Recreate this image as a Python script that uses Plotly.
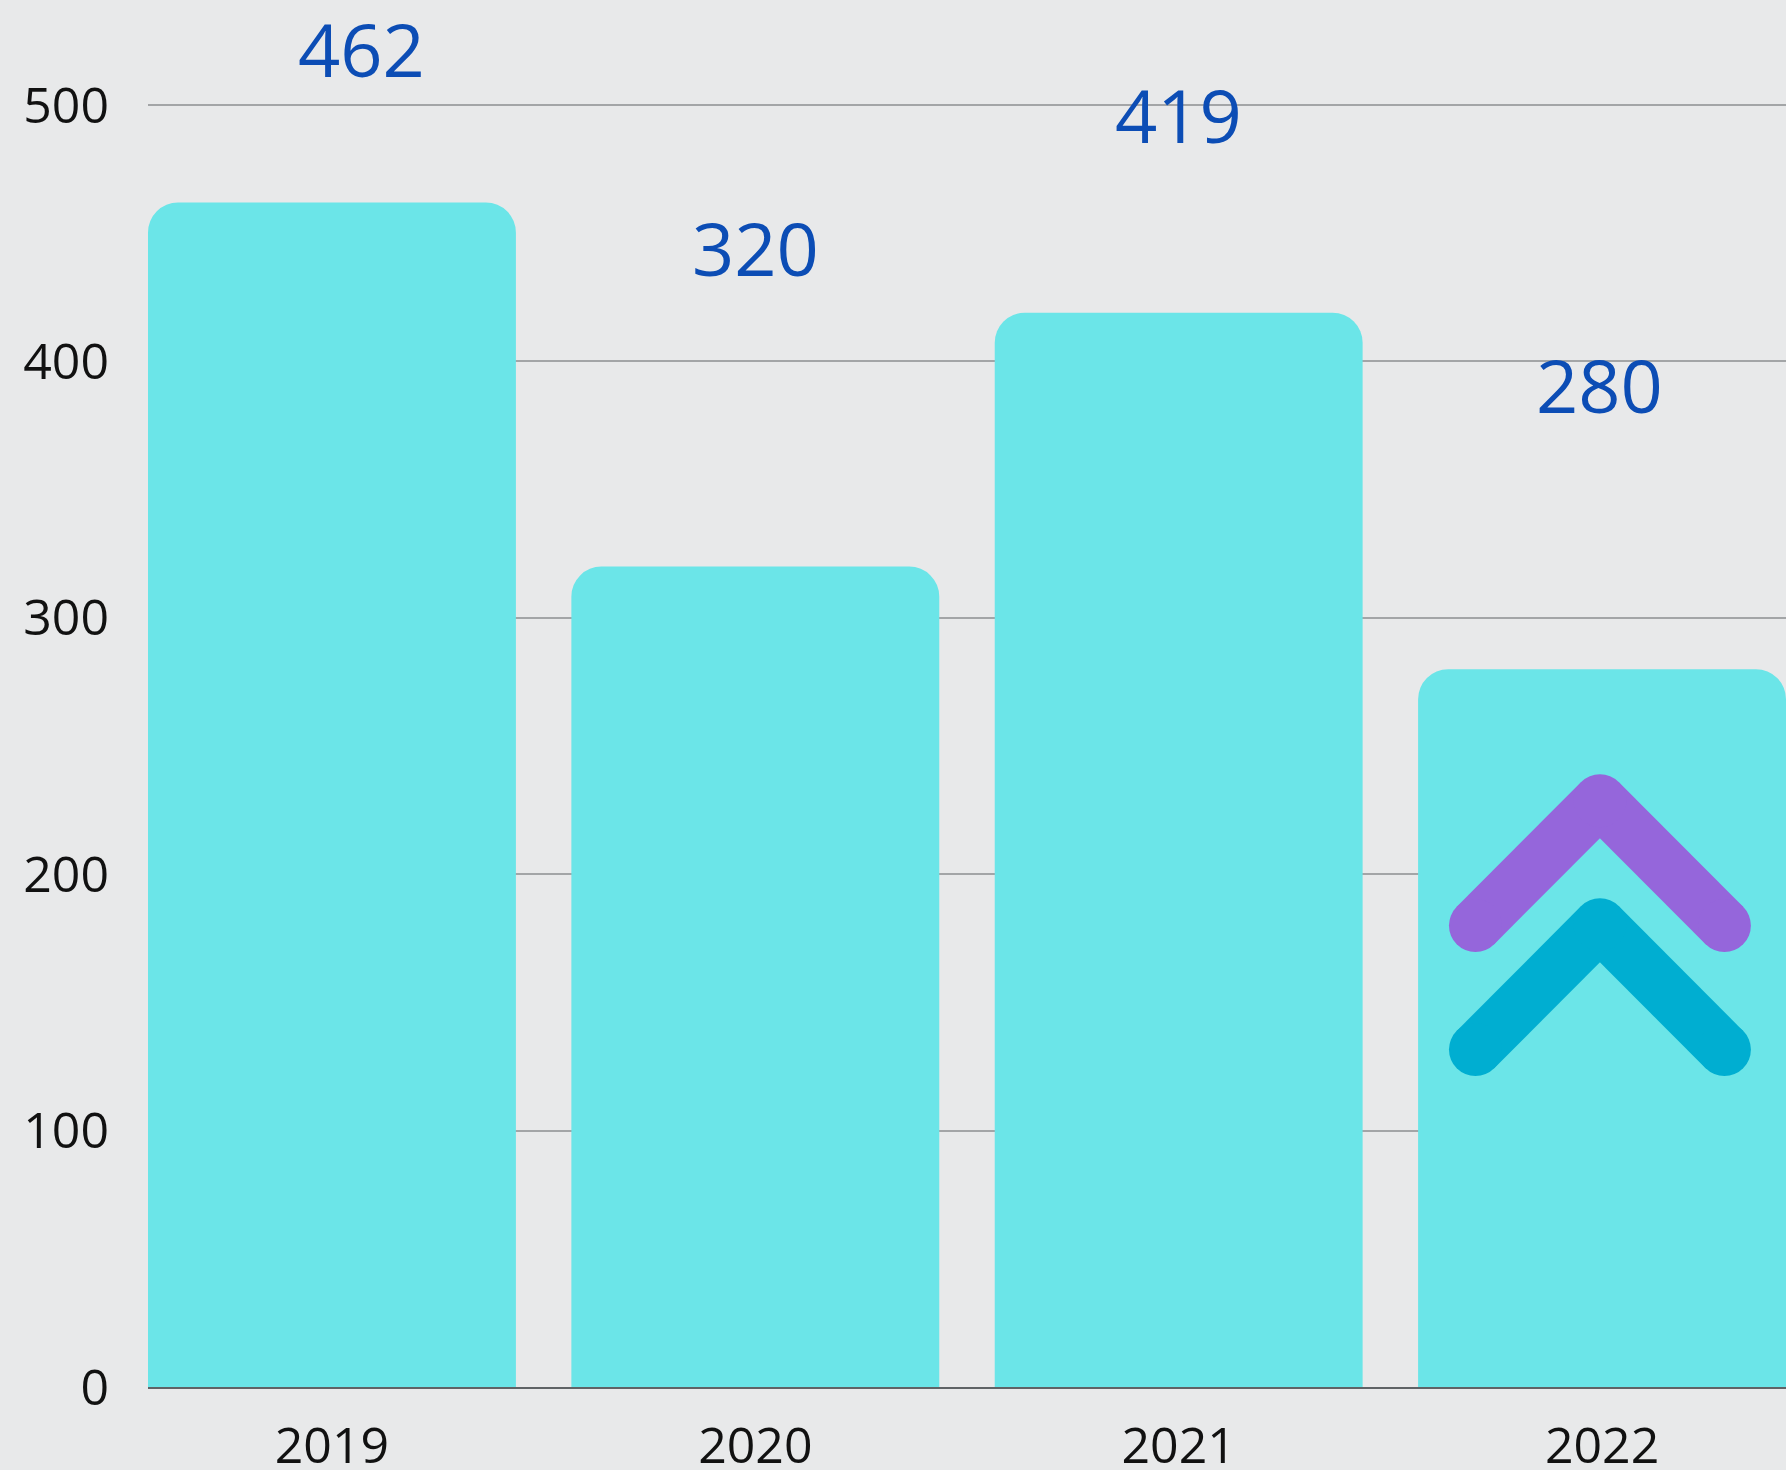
import plotly.graph_objects as go

# ---- data ----
years = ["2019", "2020", "2021", "2022"]
values = [462, 320, 419, 280]
y_ticks = [0, 100, 200, 300, 400, 500]

# ---- style ----
BAR_COLOR = "#6be5e8"
LABEL_COLOR = "#0c4db5"
BG = "#e8e9ea"
FONT = "Open Sans"
label_yshift = [154, 319, 198, 285]   # pixels above bar top
label_xshift = [30, 0, 0, -3]

idx = list(range(len(years)))

fig = go.Figure()
fig.add_trace(go.Bar(
    x=idx, y=values,
    marker=dict(color=BAR_COLOR, line=dict(width=0), cornerradius=30),
    width=0.869,
    hoverinfo="skip",
))

# decorative double chevron on the last bar
chev_center = idx[-1] - 0.005
chev_half = 0.294
chev_rise = 48.7
chev_width = 53
chevrons = [(180, "#9566db"), (131.6, "#00aed1")]
for base, col in chevrons:
    apex = base + chev_rise
    xs = [chev_center - chev_half, chev_center, None, chev_center, chev_center + chev_half]
    ys = [base, apex, None, apex, base]
    fig.add_trace(go.Scatter(
        x=xs, y=ys, mode="lines", line=dict(color=col, width=chev_width),
        hoverinfo="skip", showlegend=False))
    fig.add_trace(go.Scatter(
        x=[chev_center - chev_half, chev_center, chev_center + chev_half],
        y=[base, apex, base], mode="markers",
        marker=dict(color=col, size=chev_width, line=dict(width=0)),
        hoverinfo="skip", showlegend=False))

for i, v in enumerate(values):
    fig.add_annotation(
        x=idx[i], y=v, text=str(v), showarrow=False,
        yanchor="middle", xanchor="center",
        yshift=label_yshift[i], xshift=label_xshift[i],
        font=dict(family=FONT, size=74, color=LABEL_COLOR))

fig.update_layout(
    width=1786, height=1470,
    margin=dict(l=148, r=0, t=0, b=83, autoexpand=False),
    paper_bgcolor=BG, plot_bgcolor=BG,
    showlegend=False,
    font=dict(family=FONT, color="#111111"),
    xaxis=dict(
        range=[-0.4345, 3.4345],
        tickvals=idx, ticktext=years,
        tickfont=dict(size=50, family=FONT, color="#111111"),
        showgrid=False, zeroline=False,
        showline=True, linecolor="#5f6366", linewidth=2,
        ticks="", ticklabelstandoff=14,
        automargin=False, fixedrange=True,
    ),
    yaxis=dict(
        range=[0, 541],
        tickvals=y_ticks,
        tickfont=dict(size=50, family=FONT, color="#111111"),
        showgrid=True, gridcolor="#a3a5a7", gridwidth=1.5,
        zeroline=False, showline=False,
        ticks="", ticklabelstandoff=38,
        automargin=False, fixedrange=True,
    ),
)

fig.write_html(
    "out.html",
    config={"displayModeBar": False},
    post_script="document.body.style.margin='0px';document.body.style.overflow='hidden';",
)
